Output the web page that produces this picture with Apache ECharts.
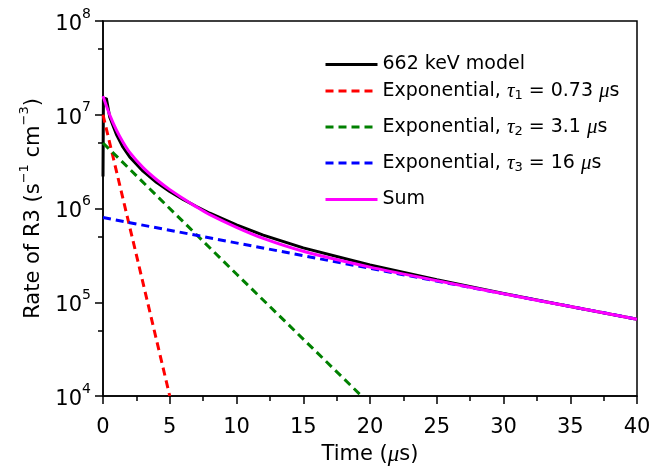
<!DOCTYPE html>
<html>
<head>
<meta charset="utf-8">
<script src="https://cdn.jsdelivr.net/npm/echarts@6/dist/echarts.min.js"></script>
<style>
  html, body { margin: 0; padding: 0; background: #fff; }
</style>
</head>
<body>
<div id="chart" style="width:662px; height:471px"></div>
<script>
// values: [time (us), rate]
var modelData = [
  [0, 2.2e6], [0.03, 1.45e7], [0.25, 1.5e7], [0.5, 9.5e6], [1, 6.2e6],
  [1.5, 4.5e6], [2, 3.55e6], [3, 2.5e6], [4, 1.9e6], [5, 1.52e6],
  [6, 1.25e6], [7, 1.05e6], [8, 8.9e5], [10, 6.7e5], [12, 5.2e5],
  [15, 3.8e5], [20, 2.5e5], [25, 1.74e5], [30, 1.24e5], [35, 9.0e4], [40, 6.6e4]
];
var exp1Data = [[0, 1.0e7], [2.5, 3.2e5], [5.0, 1.0e4]];
var exp2Data = [[0, 5.0e6], [10, 2.0e5], [19.37, 1.0e4]];
var exp3Data = [[0, 8.0e5], [20, 2.3e5], [40, 6.6e4]];
var sumData = [
  [0, 1.58e7], [0.5, 1.0e7], [1, 6.9e6], [1.5, 5.1e6], [2, 3.97e6],
  [3, 2.73e6], [4, 2.04e6], [5, 1.59e6], [6, 1.28e6], [7, 1.04e6],
  [8, 8.6e5], [10, 6.3e5], [12, 4.8e5], [15, 3.5e5], [20, 2.37e5],
  [25, 1.7e5], [30, 1.23e5], [35, 9.0e4], [40, 6.6e4]
];
var minorTicksY = [5e4, 5e5, 5e6, 5e7];

var names = ["662 keV model", "tau1", "tau2", "tau3", "Sum"];
var legendText = {
  "662 keV model": "{n|662 keV model}",
  "tau1": "{n|Exponential, }{i|τ}{sub|1}{n| = 0.73 }{i|μ}{n|s}",
  "tau2": "{n|Exponential, }{i|τ}{sub|2}{n| = 3.1 }{i|μ}{n|s}",
  "tau3": "{n|Exponential, }{i|τ}{sub|3}{n| = 16 }{i|μ}{n|s}",
  "Sum": "{n|Sum}"
};
var legendTops = [55, 79, 115, 151, 190];

var font = "DejaVu Sans, sans-serif";
var serifItalic = "Liberation Serif, DejaVu Serif, serif";
var black = "#000";

var legends = names.map(function(nm, k) {
  return {
    data: [nm],
    orient: "vertical",
    left: 324,
    top: legendTops[k],
    padding: 0,
    itemWidth: 52,
    itemHeight: 14,
    selectedMode: false,
    itemStyle: { opacity: 0 },
    lineStyle: { width: 3 },
    textStyle: {
      fontFamily: font,
      color: black,
      rich: {
        n: { fontSize: 19, fontFamily: font, color: black, lineHeight: 22, verticalAlign: "middle" },
        i: { fontSize: 21, fontFamily: serifItalic, fontStyle: "italic", color: black, lineHeight: 22, verticalAlign: "middle" },
        sub: { fontSize: 13, fontFamily: font, color: black, lineHeight: 22, verticalAlign: "bottom", padding: [10, 0, 0, 0] }
      }
    },
    formatter: function(name) {
      return legendText[name];
    }
  };
});

var myChart = echarts.init(document.getElementById("chart"));
myChart.setOption({
  animation: false,
  grid: {
    left: 103,
    right: 25,
    top: 21,
    bottom: 69,
    show: true,
    borderColor: black,
    borderWidth: 1.5
  },
  legend: legends,
  xAxis: [
    {
      type: "value",
      min: 0,
      max: 40,
      interval: 5,
      splitLine: { show: false },
      axisLine: { onZero: false, lineStyle: { color: black, width: 1.5 } },
      axisTick: { length: 8, lineStyle: { color: black, width: 1.5 } },
      minorTick: { show: true, splitNumber: 2, length: 5, lineStyle: { color: black, width: 1.5 } },
      axisLabel: { color: black, fontSize: 21, fontFamily: font, margin: 21 },
      name: "{n|Time (}{i|μ}{n|s)}",
      nameLocation: "middle",
      nameGap: 47,
      nameTextStyle: {
        rich: {
          n: { fontSize: 21, fontFamily: font, color: black },
          i: { fontSize: 23, fontFamily: serifItalic, fontStyle: "italic", color: black }
        }
      }
    }
  ],
  yAxis: [
    {
      type: "log",
      logBase: 10,
      min: 1e4,
      max: 1e8,
      splitLine: { show: false },
      axisLine: { lineStyle: { color: black, width: 1.5 } },
      axisTick: { length: 8, lineStyle: { color: black, width: 1.5 } },
      axisLabel: {
        margin: 12,
        formatter: function(val) {
          return "{b|10}{s|" + Math.round(Math.log10(val)) + "}";
        },
        rich: {
          b: { fontSize: 21, fontFamily: font, color: black, lineHeight: 28, verticalAlign: "bottom" },
          s: { fontSize: 14, fontFamily: font, color: black, lineHeight: 28, verticalAlign: "top" }
        }
      },
      name: "{n|Rate of R3 (s}{s|−1}{n| cm}{s|−3}{n|)}",
      nameLocation: "middle",
      nameGap: 58,
      nameTextStyle: {
        rich: {
          n: { fontSize: 21, fontFamily: font, color: black, lineHeight: 26, verticalAlign: "bottom" },
          s: { fontSize: 13, fontFamily: font, color: black, lineHeight: 26, verticalAlign: "top" }
        }
      }
    },
    {
      type: "log",
      logBase: 10,
      min: 1e4,
      max: 1e8,
      position: "left",
      splitLine: { show: false },
      axisLine: { show: false },
      axisLabel: { show: false },
      axisTick: {
        length: 5,
        customValues: minorTicksY,
        lineStyle: { color: black, width: 1.5 }
      }
    }
  ],
  series: [
    {
      name: "662 keV model",
      type: "line",
      data: modelData,
      symbol: "none",
      lineStyle: { color: black, width: 3 },
      itemStyle: { color: black }
    },
    {
      name: "tau1",
      type: "line",
      data: exp1Data,
      symbol: "none",
      lineStyle: { color: "#ff0000", width: 3, type: [8, 5] },
      itemStyle: { color: "#ff0000" }
    },
    {
      name: "tau2",
      type: "line",
      data: exp2Data,
      symbol: "none",
      lineStyle: { color: "#008000", width: 3, type: [8, 5] },
      itemStyle: { color: "#008000" }
    },
    {
      name: "tau3",
      type: "line",
      data: exp3Data,
      symbol: "none",
      lineStyle: { color: "#0000ff", width: 3, type: [8, 5] },
      itemStyle: { color: "#0000ff" }
    },
    {
      name: "Sum",
      type: "line",
      data: sumData,
      symbol: "none",
      smooth: 0.3,
      lineStyle: { color: "#ff00ff", width: 3 },
      itemStyle: { color: "#ff00ff" }
    }
  ]
});
</script>
</body>
</html>
